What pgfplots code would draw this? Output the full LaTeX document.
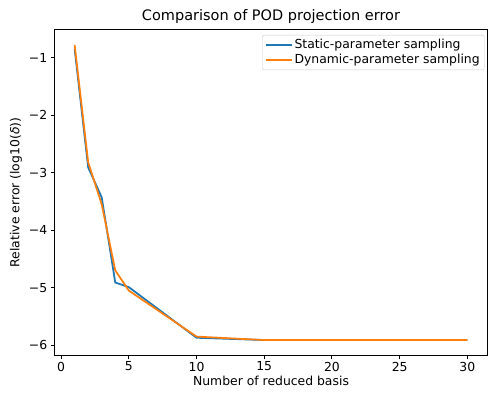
\documentclass[border=0pt]{standalone}
\usepackage{fontspec}
\setmainfont{DejaVu Sans}
\usepackage{pgfplots}
\pgfplotsset{compat=1.18}
\definecolor{tabblue}{HTML}{1F77B4}
\definecolor{taborange}{HTML}{FF7F0E}
\begin{document}
\begin{tikzpicture}
\begin{axis}[
  scale only axis,
  width=432pt, height=325pt,
  xmin=-0.45, xmax=31.45,
  ymin=-6.17, ymax=-0.52,
  xtick={0,5,10,15,20,25,30},
  ytick={-6,-5,-4,-3,-2,-1},
  yticklabels={−6,−5,−4,−3,−2,−1},
  xticklabels={0,5,10,15,20,25,30},
  tick align=outside,
  tick pos=left,
  major tick length=4.3pt,
  tick style={black, line width=1pt},
  axis line style={line width=1pt},
  tick label style={font=\fontsize{12.4}{14}\selectfont},
  xticklabel style={yshift=1pt},
  label style={font=\fontsize{12.4}{14}\selectfont},
  xlabel={Number of reduced basis},
  ylabel={Relative error (log10(\textit{δ}))},
  xlabel style={yshift=2pt},
  title={Comparison of POD projection error},
  title style={font=\fontsize{14.5}{17}\selectfont, yshift=-3pt},
  legend cell align=left,
  legend style={font=\fontsize{12.4}{14}\selectfont, draw=black!20, rounded corners=2pt, at={(0.994,0.985)}, anchor=north east, inner sep=2.5pt, row sep=0pt,
    /tikz/every even column/.append style={column sep=4pt}},
  legend image code/.code={\draw[#1] (0pt,0pt) -- (26pt,0pt);},
]
\addplot[color=tabblue, line width=1.75pt] coordinates {
(1,-0.85) (2,-2.91) (3,-3.43) (4,-4.91) (5,-4.99) (10,-5.87) (15,-5.91) (20,-5.91) (25,-5.91) (30,-5.91)
};
\addlegendentry{Static-parameter sampling}
\addplot[color=taborange, line width=1.75pt] coordinates {
(1,-0.78) (2,-2.82) (3,-3.55) (4,-4.70) (5,-5.05) (10,-5.85) (15,-5.91) (20,-5.91) (25,-5.91) (30,-5.91)
};
\addlegendentry{Dynamic-parameter sampling}
\end{axis}
\pgfresetboundingbox
\path[use as bounding box] (-55pt,-42pt) rectangle (433pt,355pt);
\end{tikzpicture}
\end{document}
